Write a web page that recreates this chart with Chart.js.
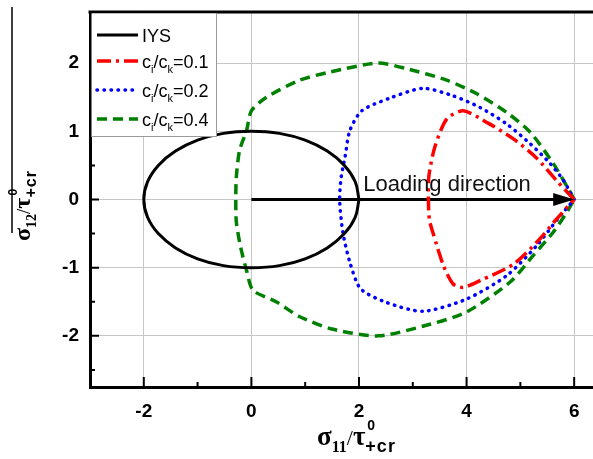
<!DOCTYPE html>
<html>
<head>
<meta charset="utf-8">
<script src="https://cdn.jsdelivr.net/npm/chart.js@4/dist/chart.umd.min.js"></script>
<style>
html, body { margin: 0; padding: 0; background: #fff; overflow: hidden; }
</style>
</head>
<body>
<canvas id="chart" width="593" height="459"></canvas>
<script>
// values, as [sigma11, sigma12] pairs
var iys = [[2, 0], [1.93, 0.26], [1.73, 0.5], [1.41, 0.71], [1, 0.87], [0.52, 0.97], [0, 1],
    [-0.52, 0.97], [-1, 0.87], [-1.41, 0.71], [-1.73, 0.5], [-1.93, 0.26], [-2, 0],
    [-1.93, -0.26], [-1.73, -0.5], [-1.41, -0.71], [-1, -0.87], [-0.52, -0.97], [0, -1],
    [0.52, -0.97], [1, -0.87], [1.41, -0.71], [1.73, -0.5], [1.93, -0.26], [2, 0]];
var ratio01 = [[6, 0], [5.67, 0.28], [5.3, 0.61], [4.87, 0.89], [4.4, 1.12], [3.94, 1.3],
    [3.63, 1.18], [3.41, 0.77], [3.3, 0.35], [3.29, 0], [3.31, -0.3], [3.38, -0.5],
    [3.57, -0.97], [3.75, -1.24], [3.94, -1.29], [4.25, -1.19], [4.87, -0.95],
    [5.36, -0.58], [5.67, -0.29], [6, 0]];
var ratio02 = [[6, 0], [5.8, 0.28], [5.55, 0.53], [5.18, 0.82], [4.74, 1.11], [4.25, 1.35],
    [3.75, 1.52], [3.19, 1.63], [2.55, 1.48], [2.05, 1.3], [1.83, 1.01], [1.74, 0.62],
    [1.67, 0.33], [1.64, 0], [1.7, -0.48], [1.83, -0.92], [2.03, -1.31], [2.51, -1.51],
    [3.19, -1.64], [4, -1.46], [4.74, -1.12], [5.3, -0.68], [5.74, -0.24], [6, 0]];
var ratio04 = [[6, 0], [5.86, 0.2], [5.61, 0.53], [5.18, 0.99], [4.74, 1.28], [4.19, 1.55],
    [3.63, 1.75], [2.88, 1.92], [2.35, 2], [1.46, 1.87], [0.9, 1.75], [0.28, 1.5],
    [0, 1.3], [-0.09, 1.01], [-0.22, 0.72], [-0.28, 0.33], [-0.29, 0], [-0.28, -0.33],
    [-0.2, -0.7], [-0.09, -1.04], [0.03, -1.33], [0.46, -1.5], [0.9, -1.72], [1.5, -1.9],
    [2.36, -2], [3.32, -1.83], [4, -1.65], [4.81, -1.21], [5.24, -0.82], [5.61, -0.48],
    [5.86, -0.19], [6, 0]];
var loading = [[0, 0], [6, 0]];

var xTicks = [-2, 0, 2, 4, 6];
var yTicks = [-2, -1, 0, 1, 2];
var xMinor = [-1, 1, 3, 5];
var yMinor = [-2.5, -1.5, -0.5, 0.5, 1.5, 2.5];
var ratioLabels = ['0.1', '0.2', '0.4'];
var arrowText = 'Loading direction';

var SANS = "Arial, 'Liberation Sans', sans-serif";
var SERIF = "'Times New Roman', 'Liberation Serif', serif";

function toPts(arr) {
    return arr.map(function (p) { return { x: p[0], y: p[1] }; });
}

// text with sub/superscripts, parts drawn left to right
function richText(ctx, parts, x, y) {
    var cx = x;
    parts.forEach(function (p) {
        if (p.sup) {
            ctx.font = p.sup.f;
            ctx.fillText(p.sup.t, cx + (p.sup.dx || 0), y + p.sup.dy);
            var w1 = ctx.measureText(p.sup.t).width + (p.sup.dx || 0);
            ctx.font = p.sub.f;
            ctx.letterSpacing = p.sub.ls || '0px';
            ctx.fillText(p.sub.t, cx, y + p.sub.dy);
            var w2 = ctx.measureText(p.sub.t).width;
            ctx.letterSpacing = '0px';
            cx += Math.max(w1, w2);
        } else {
            ctx.font = p.f;
            ctx.fillText(p.t, cx, y + (p.dy || 0));
            cx += ctx.measureText(p.t).width;
        }
    });
}

function axisTitle(sub, k) {
    function px(n) { return Math.round(n * k) + 'px '; }
    return [
        { t: '\u03c3', f: 'bold ' + px(27) + SERIF },
        { t: sub, f: 'bold ' + px(16) + SERIF, dy: 7 * k },
        { t: '/', f: px(22) + SERIF },
        { t: '\u03c4', f: 'bold ' + px(27) + SERIF },
        { sup: { t: '0', f: 'bold ' + px(14) + SANS, dy: -15 * k, dx: 2 },
          sub: { t: '+cr', f: 'bold ' + px(18) + SANS, dy: 7 * k, ls: '1px' } }
    ];
}

var decor = {
    id: 'decor',
    afterDatasetsDraw: function (chart) {
        var ctx = chart.ctx, a = chart.chartArea;
        var xs = chart.scales.x, ys = chart.scales.y;
        ctx.save();
        ctx.fillStyle = '#000';
        ctx.strokeStyle = '#000';

        // arrow head
        var tx = xs.getPixelForValue(6), ty = ys.getPixelForValue(0);
        ctx.beginPath();
        ctx.moveTo(tx, ty);
        ctx.lineTo(tx - 21, ty - 6.5);
        ctx.lineTo(tx - 21, ty + 6.5);
        ctx.closePath();
        ctx.fill();

        ctx.font = '22px ' + SANS;
        ctx.fillStyle = '#111';
        ctx.fillText(arrowText, xs.getPixelForValue(2.08), ys.getPixelForValue(0.13));
        ctx.fillStyle = '#000';

        // inward ticks
        ctx.lineWidth = 2;
        ctx.beginPath();
        xTicks.forEach(function (v) {
            var px = xs.getPixelForValue(v);
            ctx.moveTo(px, a.bottom); ctx.lineTo(px, a.bottom - 10);
        });
        xMinor.forEach(function (v) {
            var px = xs.getPixelForValue(v);
            ctx.moveTo(px, a.bottom); ctx.lineTo(px, a.bottom - 5);
        });
        yTicks.forEach(function (v) {
            var py = ys.getPixelForValue(v);
            ctx.moveTo(a.left, py); ctx.lineTo(a.left + 9, py);
        });
        yMinor.forEach(function (v) {
            var py = ys.getPixelForValue(v);
            ctx.moveTo(a.left, py); ctx.lineTo(a.left + 5, py);
        });
        ctx.stroke();

        // top frame
        ctx.lineWidth = 3;
        ctx.beginPath();
        ctx.moveTo(a.left - 1.5, a.top);
        ctx.lineTo(a.right, a.top);
        ctx.stroke();

        // legend box
        var lx = a.left, ly = a.top, lw = 126, lh = 124;
        ctx.fillStyle = '#fff';
        ctx.fillRect(lx + 1.5, ly + 1.5, lw - 1.5, lh - 1.5);
        ctx.strokeStyle = '#9a9a9a';
        ctx.lineWidth = 1;
        ctx.beginPath();
        ctx.moveTo(lx + lw + 0.5, ly + 1);
        ctx.lineTo(lx + lw + 0.5, ly + lh + 0.5);
        ctx.lineTo(lx + 1, ly + lh + 0.5);
        ctx.stroke();

        var rows = [35, 61, 90, 119];
        chart.data.datasets.slice(0, 4).forEach(function (ds, i) {
            var ry = ly + rows[i] - 12;
            ctx.save();
            ctx.strokeStyle = ds.borderColor;
            ctx.lineWidth = ds.borderWidth;
            ctx.lineCap = ds.borderCapStyle || 'butt';
            ctx.setLineDash(ds.borderDash || []);
            ctx.beginPath();
            ctx.moveTo(lx + 7, ry);
            ctx.lineTo(lx + 48, ry);
            ctx.stroke();
            ctx.restore();
            ctx.fillStyle = '#000';
            if (i === 0) {
                ctx.font = '18px ' + SANS;
                ctx.fillText(ds.label, lx + 52, ry + 7);
            } else {
                richText(ctx, [
                    { t: 'c', f: '18px ' + SANS },
                    { t: 'i', f: '11px ' + SANS, dy: 5 },
                    { t: '/c', f: '18px ' + SANS },
                    { t: 'k', f: '11px ' + SANS, dy: 5 },
                    { t: '=' + ratioLabels[i - 1], f: '18px ' + SANS }
                ], lx + 52, ry + 7);
            }
        });
        ctx.restore();
    },
    afterDraw: function (chart) {
        var ctx = chart.ctx;
        ctx.save();
        ctx.fillStyle = '#000';
        richText(ctx, axisTitle('11', 1), 317, 445);
        ctx.translate(30, 241);
        ctx.rotate(-Math.PI / 2);
        richText(ctx, axisTitle('12', 0.88), 0, 0);
        ctx.restore();

        ctx.save();
        ctx.strokeStyle = '#000';
        ctx.lineWidth = 1.5;
        ctx.beginPath();
        ctx.moveTo(12, 7);
        ctx.lineTo(12, 233);
        ctx.stroke();
        ctx.restore();
    }
};

var tickFont = { family: SANS, size: 19, weight: 'bold' };

new Chart(document.getElementById('chart'), {
    type: 'scatter',
    data: {
        datasets: [
            { label: 'IYS', data: toPts(iys), borderColor: '#000000', borderWidth: 3, tension: 0.4, showLine: true },
            { label: 'ci/ck=0.1', data: toPts(ratio01), borderColor: '#ff0000', borderWidth: 3.5, borderDash: [14, 5, 3, 5], tension: 0.25, showLine: true },
            { label: 'ci/ck=0.2', data: toPts(ratio02), borderColor: '#0000ff', borderWidth: 3.5, borderDash: [0.5, 6.5], borderCapStyle: 'round', tension: 0.25, showLine: true },
            { label: 'ci/ck=0.4', data: toPts(ratio04), borderColor: '#008000', borderWidth: 3.5, borderDash: [10, 6], tension: 0.25, showLine: true },
            { label: 'arrow', data: toPts(loading), borderColor: '#000000', borderWidth: 3, showLine: true }
        ]
    },
    options: {
        responsive: false,
        animation: false,
        events: [],
        layout: { padding: { top: 12, left: 0, right: 0, bottom: 0 } },
        elements: { point: { radius: 0, hoverRadius: 0 } },
        plugins: { legend: { display: false }, tooltip: { enabled: false } },
        scales: {
            x: {
                type: 'linear', min: -3, max: 6.35,
                afterFit: function (s) { s.height = 72; s.paddingLeft = 0; s.paddingRight = 0; },
                afterBuildTicks: function (s) { s.ticks = xTicks.map(function (v) { return { value: v }; }); },
                grid: { color: '#c6c6c6', lineWidth: 1, drawTicks: false },
                border: { color: '#000', width: 3 },
                ticks: { padding: 13, color: '#000', font: tickFont }
            },
            y: {
                type: 'linear', min: -2.75, max: 2.75,
                afterFit: function (s) { s.width = 90; s.paddingTop = 0; s.paddingBottom = 0; },
                afterBuildTicks: function (s) { s.ticks = yTicks.map(function (v) { return { value: v }; }); },
                grid: { color: '#c6c6c6', lineWidth: 1, drawTicks: false },
                border: { color: '#000', width: 3 },
                ticks: { padding: 11, color: '#000', font: tickFont }
            }
        }
    },
    plugins: [decor]
});
</script>
</body>
</html>
